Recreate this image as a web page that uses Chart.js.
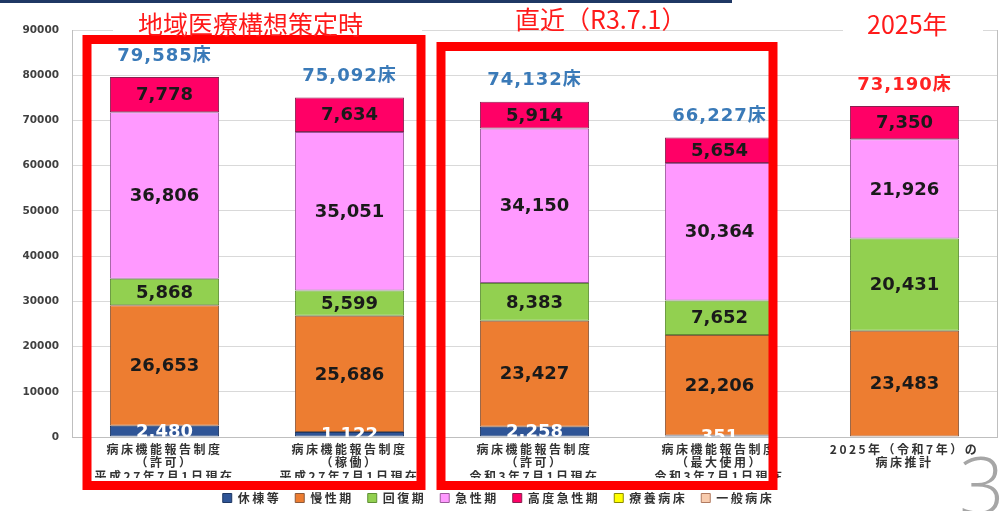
<!DOCTYPE html>
<html lang="ja">
<head>
<meta charset="utf-8">
<title>病床数の推移</title>
<script src="https://cdn.jsdelivr.net/npm/chart.js@4.4.1/dist/chart.umd.min.js"></script>
<style>
  html, body { margin: 0; padding: 0; background: #fff; }
  #wrap { position: relative; width: 1002px; height: 511px; overflow: hidden; }
  #chart { position: absolute; left: 0; top: 0; }
  .topbar { position: absolute; left: 0; top: 0; width: 732px; height: 3px; background: #1F3864; }
  .period { position: absolute; height: 24px; line-height: 26px; background: #fff; color: #ff1a1a;
            font-family: "Noto Sans CJK JP", sans-serif; font-size: 25px; white-space: nowrap; overflow: visible; }
  .page { position: absolute; left: 959px; top: 443px; font-family: "Open Sans", sans-serif; font-weight: 300;
          font-size: 80px; line-height: 1; color: #a6a6a6; }
</style>
</head>
<body>
<div id="wrap">
  <canvas id="chart" width="1002" height="511"></canvas>
  <div class="topbar"></div>
  <div class="period" style="left:113px; top:10px; width:284px; padding-left:25px;">地域医療構想策定時</div>
  <div class="period" style="left:493px; top:5px; width:217px; padding-left:22px;">直近（R3.7.1）</div>
  <div class="period" style="left:843px; top:10px; width:116px; padding-left:24px;">2025年</div>
  <div class="page">3</div>
</div>
<script>
// categories (multi-line tick labels)
const categories = [
  ['病床機能報告制度', '（許可）', '平成27年7月1日現在'],
  ['病床機能報告制度', '（稼働）', '平成27年7月1日現在'],
  ['病床機能報告制度', '（許可）', '令和3年7月1日現在'],
  ['病床機能報告制度', '（最大使用）', '令和3年7月1日現在'],
  ['2025年（令和7年）の', '病床推計']
];

// beds per function (stack order: bottom -> top)
const kyuto   = [2480, 1122, 2258, 351, null];      // 休棟等
const mansei  = [26653, 25686, 23427, 22206, 23483]; // 慢性期
const kaifuku = [5868, 5599, 8383, 7652, 20431];     // 回復期
const kyusei  = [36806, 35051, 34150, 30364, 21926]; // 急性期
const kodo    = [7778, 7634, 5914, 5654, 7350];      // 高度急性期
const ryoyo   = [null, null, null, null, null];      // 療養病床 (legend only)
const ippan   = [null, null, null, null, null];      // 一般病床 (legend only)

const yMax = 90000;
const yStep = 10000;
const projectedIndex = 4; // 2025 estimate, total shown in red

// red frames around period groups
const groupBoxes = [
  { from: 0, to: 1, padLeft: 82, padRight: 76, top: 35 },
  { from: 2, to: 3, padLeft: 98, padRight: 58, top: 42 }
];

// y labels without the letter spacing used elsewhere
class PlainLinear extends Chart.LinearScale {
  static id = 'plainLinear';
  drawLabels(area) {
    this.ctx.save();
    this.ctx.letterSpacing = '0px';
    super.drawLabels(area);
    this.ctx.restore();
  }
}
Chart.register(PlainLinear);

const spacing = {
  id: 'spacing',
  beforeLayout(chart) { chart.ctx.letterSpacing = '2.5px'; },
  beforeDraw(chart) { chart.ctx.letterSpacing = '2.5px'; }
};

const frameLine = {
  id: 'frameLine',
  beforeDatasetsDraw(chart) {
    const { ctx, chartArea: a } = chart;
    ctx.save();
    ctx.strokeStyle = '#bfbfbf';
    ctx.lineWidth = 1;
    ctx.beginPath();
    ctx.moveTo(a.right + 0.5, a.top);
    ctx.lineTo(a.right + 0.5, a.bottom);
    ctx.stroke();
    ctx.restore();
  }
};

const barLabels = {
  id: 'barLabels',
  afterDatasetsDraw(chart) {
    const { ctx, chartArea: a } = chart;
    ctx.save();
    ctx.letterSpacing = '0px';
    ctx.beginPath();
    ctx.rect(a.left, a.top, a.right - a.left, a.bottom - a.top);
    ctx.clip();
    ctx.textAlign = 'center';
    ctx.textBaseline = 'middle';
    ctx.font = 'bold 18px "DejaVu Sans"';
    chart.data.datasets.forEach((ds, i) => {
      chart.getDatasetMeta(i).data.forEach((bar, j) => {
        const v = ds.data[j];
        if (!v) return;
        ctx.fillStyle = i === 0 ? '#ffffff' : '#1a1a1a';
        ctx.fillText(v.toLocaleString('en-US'), bar.x, (bar.y + bar.base) / 2 + 1);
      });
    });

    // totals above each stack
    ctx.font = 'bold 18px "DejaVu Sans", "Noto Sans CJK JP"';
    ctx.letterSpacing = '1px';
    categories.forEach((c, j) => {
      let total = 0, top = a.bottom;
      chart.data.datasets.forEach((ds, i) => {
        const v = ds.data[j];
        if (v) {
          total += v;
          top = Math.min(top, chart.getDatasetMeta(i).data[j].y);
        }
      });
      ctx.fillStyle = j === projectedIndex ? '#ff2222' : '#3a7ab8';
      ctx.fillText(total.toLocaleString('en-US') + '床', chart.getDatasetMeta(1).data[j].x, top - 21);
    });
    ctx.restore();
  }
};

const redFrames = {
  id: 'redFrames',
  afterDraw(chart) {
    const ctx = chart.ctx;
    const x = chart.scales.x;
    const bottom = 490;
    ctx.save();
    ctx.strokeStyle = '#ff0000';
    ctx.lineWidth = 9;
    groupBoxes.forEach(b => {
      const l = x.getPixelForValue(b.from) - b.padLeft;
      const r = x.getPixelForValue(b.to) + b.padRight;
      ctx.strokeRect(l + 4.5, b.top + 4.5, r - l - 9, bottom - b.top - 9);
    });
    ctx.restore();
  }
};

function makeSet(label, data, bg, border) {
  return {
    label: label,
    data: data,
    backgroundColor: bg,
    borderColor: border,
    borderWidth: 1,
    borderSkipped: false,
    barPercentage: 0.59,
    categoryPercentage: 1.0
  };
}

new Chart(document.getElementById('chart'), {
  type: 'bar',
  data: {
    labels: categories,
    datasets: [
      makeSet('休棟等', kyuto, '#2F5597', '#1F3864'),
      makeSet('慢性期', mansei, '#ED7D31', '#8c5a3c'),
      makeSet('回復期', kaifuku, '#92D050', '#5f8f35'),
      makeSet('急性期', kyusei, '#FF99FF', '#9a5a9a'),
      makeSet('高度急性期', kodo, '#FF0066', '#8a2050'),
      makeSet('療養病床', ryoyo, '#FFFF00', '#8a8a00'),
      makeSet('一般病床', ippan, '#F8CBAD', '#b07a60')
    ]
  },
  options: {
    responsive: false,
    animation: false,
    devicePixelRatio: 1,
    layout: { padding: { top: 30, left: 0, right: 5, bottom: -3 } },
    scales: {
      x: {
        stacked: true,
        grid: { display: false, drawTicks: false },
        border: { display: true, color: '#bfbfbf' },
        ticks: {
          autoSkip: false,
          maxRotation: 0,
          padding: 6,
          color: '#333333',
          font: { family: '"Noto Sans CJK JP"', size: 12, weight: 'bold', lineHeight: 1.1 }
        },
        afterFit: s => { s.height = 41; }
      },
      y: {
        type: 'plainLinear',
        stacked: true,
        min: 0,
        max: yMax,
        grid: { color: '#d9d9d9', drawTicks: false },
        border: { display: true, color: '#bfbfbf' },
        ticks: {
          stepSize: yStep,
          padding: 13,
          color: '#404040',
          font: { family: '"DejaVu Sans"', size: 10.5, weight: 'bold' },
          callback: v => String(v)
        },
        afterFit: s => { s.width = 72; }
      }
    },
    plugins: {
      legend: {
        position: 'bottom',
        labels: {
          boxWidth: 9,
          boxHeight: 9,
          padding: 14,
          color: '#333333',
          font: { family: '"Noto Sans CJK JP"', size: 12, weight: 'bold' }
        }
      },
      tooltip: { enabled: false }
    }
  },
  plugins: [spacing, frameLine, barLabels, redFrames]
});
</script>
</body>
</html>
